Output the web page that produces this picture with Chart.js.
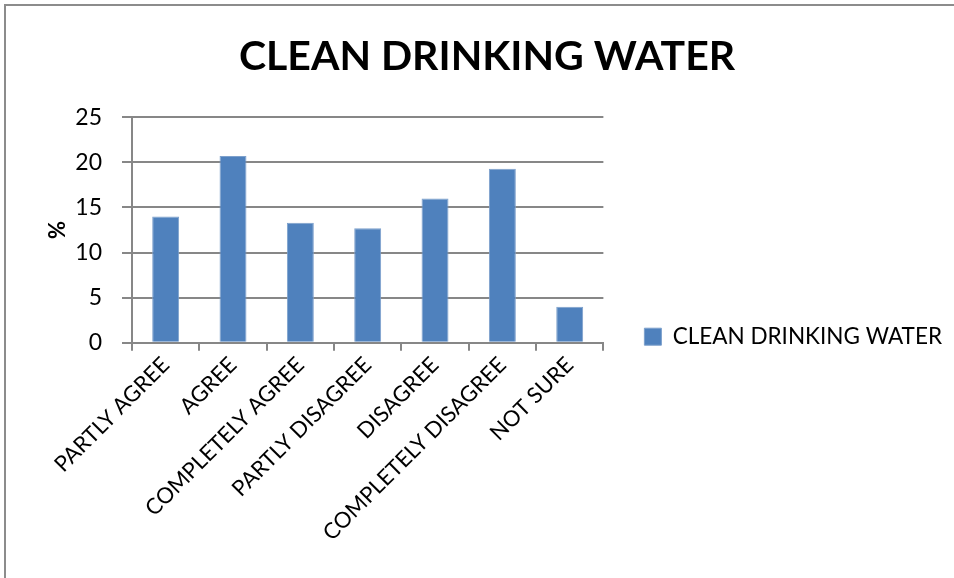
<!DOCTYPE html>
<html>
<head>
<meta charset="utf-8">
<script src="https://cdn.jsdelivr.net/npm/chart.js@4.4.1/dist/chart.umd.min.js"></script>
<style>
  body { margin: 0; background: #fff; }
  #frame { position: absolute; left: 4px; top: 4px; width: 1000px; height: 700px; border: 2px solid #8c8c8c; }
  #wrap { position: absolute; left: 0; top: 0; width: 954px; height: 578px; }
</style>
</head>
<body>
<div id="frame"></div>
<div id="wrap"><canvas id="chart"></canvas></div>
<script>
const categories = ["PARTLY AGREE", "AGREE", "COMPLETELY AGREE", "PARTLY DISAGREE", "DISAGREE", "COMPLETELY DISAGREE", "NOT SURE"];
const waterValues = [14, 20.7, 13.3, 12.7, 16, 19.3, 4];
const seriesName = "CLEAN DRINKING WATER";
const yTicks = [0, 5, 10, 15, 20, 25];

const fontFamily = "Lato, 'Open Sans', sans-serif";
const gridGray = "#878787";

var ctx = document.getElementById("chart").getContext("2d");
var myChart = new Chart(ctx, {
  type: "bar",
  data: {
    labels: categories,
    datasets: [
      {
        label: seriesName,
        data: waterValues,
        backgroundColor: "#4f81bd",
        borderColor: "#7da0cc",
        borderWidth: 1,
        categoryPercentage: 1,
        barPercentage: 0.4,
      },
    ],
  },
  options: {
    responsive: true,
    maintainAspectRatio: false,
    animation: false,
    layout: {
      padding: { top: 5, right: 2, bottom: 31, left: 22 },
    },
    plugins: {
      title: {
        display: true,
        text: seriesName,
        color: "#000",
        font: { family: fontFamily, size: 41, weight: "bold" },
        padding: { top: 27, bottom: 36 },
      },
      legend: {
        position: "right",
        maxWidth: 400,
        title: {
          // empty title only pushes the legend entry down
          display: true,
          text: "",
          padding: { top: 107, bottom: 0 },
        },
        labels: {
          color: "#000",
          font: { family: fontFamily, size: 22.5 },
          boxWidth: 17,
          boxHeight: 17,
          padding: 41,
        },
      },
      tooltip: { enabled: false },
    },
    scales: {
      x: {
        // rotated labels may hang left of the plot, like in Excel
        afterFit: function (scale) {
          scale.paddingLeft = 0;
        },
        grid: {
          drawOnChartArea: false,
          drawTicks: true,
          tickLength: 8,
          color: gridGray,
          lineWidth: 2,
        },
        border: { color: gridGray, width: 2 },
        ticks: {
          color: "#000",
          font: { family: fontFamily, size: 22 },
          minRotation: 45,
          maxRotation: 45,
          padding: 1,
        },
      },
      y: {
        min: 0,
        max: 25,
        afterBuildTicks: function (scale) {
          scale.ticks = yTicks.map(function (v) { return { value: v }; });
        },
        afterFit: function (scale) {
          scale.width = 110;
        },
        title: {
          display: true,
          text: "%",
          color: "#000",
          font: { family: fontFamily, size: 22, weight: "bold" },
          padding: { top: 23, bottom: 0 },
        },
        grid: {
          color: gridGray,
          lineWidth: 2,
          tickLength: 10,
        },
        border: { color: gridGray, width: 2 },
        ticks: {
          color: "#000",
          font: { family: fontFamily, size: 23 },
          padding: 20,
        },
      },
    },
  },
});
</script>
</body>
</html>
